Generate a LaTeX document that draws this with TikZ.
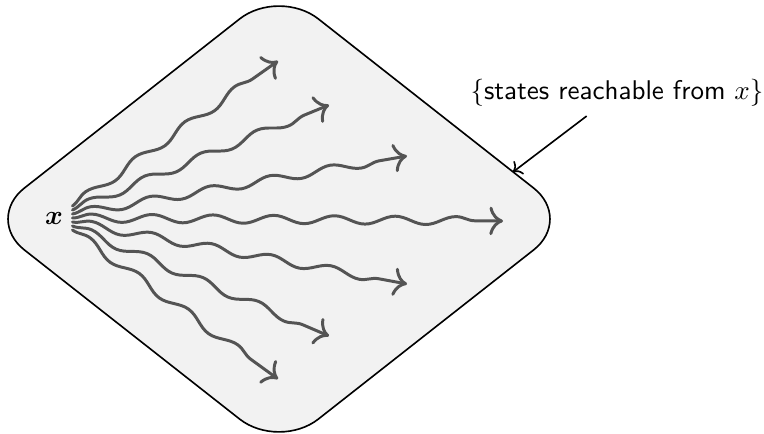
\documentclass[tikz,border=0pt]{standalone}
\usepackage{bm}
\usetikzlibrary{decorations.pathmorphing,arrows.meta}
\tikzset{
  region/.style={draw=black, semithick, fill=black!5, rounded corners=0.65cm},
  trajectory/.style={-{To[scale=1.25]}, line width=1.1pt, draw=black!67, line cap=round, decorate,
    decoration={snake, amplitude=1.5pt, segment length=0.79cm, post length=1.5mm}},
}
\begin{document}
\begin{tikzpicture}[x=0.013cm,y=-0.013cm]
  \useasboundingbox (0,0) rectangle (764,434);
  % corners of the reachable region before rounding
  \coordinate (W) at (-15,219);
  \coordinate (N) at (279,-12);
  \coordinate (E) at (573,219);
  \coordinate (S) at (279,450);
  \draw[region] (W) -- (N) -- (E) -- (S) -- cycle;

  \node (src) at (54,218) {$\bm{x}$};
  \foreach \dy/\tx/\ty [count=\i] in {-12/278/61, -8/329/105, -4/407/156, 0/503/221, 4/407/284, 8/329/336, 12/278/379} {
    \coordinate (tip\i) at (\tx,\ty);
    \draw[trajectory] ([yshift=-\dy*0.013cm]src.east) -- (tip\i);
  }

  \node[font=\sffamily] (lbl) at (617,93) {$\{$states reachable from $x\}$};
  \coordinate (hit) at (513,172);
  \draw[->, semithick] (lbl) -- (hit);
\end{tikzpicture}
\end{document}
